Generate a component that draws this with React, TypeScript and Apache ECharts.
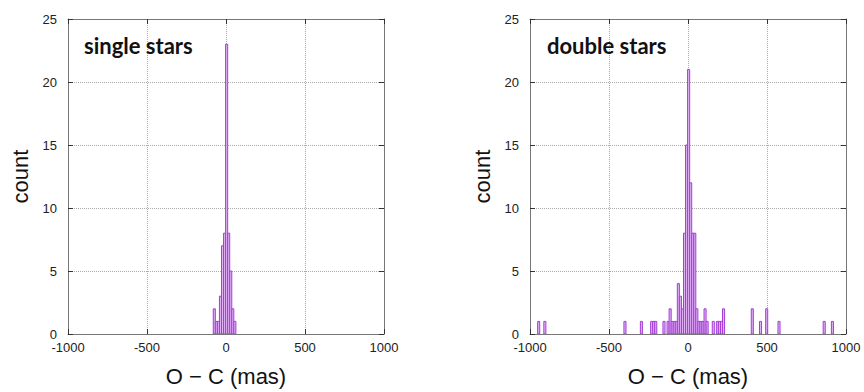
import React, { useEffect, useRef } from "react";
import * as echarts from "echarts";

const BIN_WIDTH = 13;
const xTicks = [-1000, -500, 0, 500, 1000];
const yTicks = [0, 5, 10, 15, 20, 25];

const singleCenters = [-74, -61, -48, -35, -22, -9, 4, 17, 30, 43, 56];
const singleCounts = [2, 1, 1, 3, 7, 8, 23, 8, 5, 2, 1];

const doubleCenters = [
  -945, -906, -399, -295, -230, -217, -204, -152, -126, -113, -100, -87, -74, -61, -48, -35, -22, -9,
  4, 17, 30, 43, 56, 69, 82, 95, 108, 121, 160, 186, 199, 212, 225, 407, 459, 498, 576, 862, 914,
];
const doubleCounts = [
  1, 1, 1, 1, 1, 1, 1, 1, 1, 2, 1, 1, 1, 4, 3, 2, 8, 15,
  21, 12, 8, 8, 2, 1, 1, 1, 2, 1, 1, 1, 1, 1, 2, 2, 1, 2, 1, 1, 1,
];

const panelTitles = ["single stars", "double stars"];
const xName = "O \u2212 C (mas)";
const yName = "count";

const FONT = "'Liberation Sans', Arial, sans-serif";

function binData(centers: number[], counts: number[]) {
  return centers.map((c, i) => [c - BIN_WIDTH / 2, c + BIN_WIDTH / 2, counts[i]]);
}

export default function App() {
  const ref = useRef<HTMLDivElement>(null);
  useEffect(() => {
    if (!ref.current) return;
    const chart = echarts.init(ref.current, null, { renderer: "svg" });
    const grids = [
      { left: 68, top: 19, width: 316, height: 319 },
      { left: 530, top: 19, width: 316, height: 319 },
    ];
    const gridLine = { show: true, lineStyle: { type: "dotted" as const, color: "#aaa", width: 1 } };
    const axisLine = { show: true, onZero: false, lineStyle: { color: "#777", width: 1 } };
    const tick = { show: true, inside: true, length: 5, lineStyle: { color: "#333" } };
    const xAxes: any[] = [];
    const yAxes: any[] = [];
    grids.forEach((_, gi) => {
      xAxes.push({
        type: "value",
        gridIndex: gi,
        min: xTicks[0],
        max: xTicks[xTicks.length - 1],
        interval: 500,
        position: "bottom",
        name: xName,
        nameLocation: "middle",
        nameGap: 31,
        nameTextStyle: { fontFamily: FONT, fontSize: 22, color: "#111" },
        axisLine,
        axisTick: tick,
        axisLabel: { fontFamily: FONT, fontSize: 13, color: "#222", margin: 7, formatter: (v: number) => String(v) },
        splitLine: gridLine,
      });
      xAxes.push({
        type: "value",
        gridIndex: gi,
        min: xTicks[0],
        max: xTicks[xTicks.length - 1],
        interval: 500,
        position: "top",
        axisLine,
        axisTick: tick,
        axisLabel: { show: false },
        splitLine: { show: false },
      });
      yAxes.push({
        type: "value",
        gridIndex: gi,
        min: yTicks[0],
        max: yTicks[yTicks.length - 1],
        interval: 5,
        position: "left",
        name: yName,
        nameLocation: "middle",
        nameGap: 37,
        nameRotate: 90,
        nameTextStyle: { fontFamily: FONT, fontSize: 22, color: "#111" },
        axisLine,
        axisTick: tick,
        axisLabel: { fontFamily: FONT, fontSize: 13, color: "#222", margin: 11 },
        splitLine: gridLine,
      });
      yAxes.push({
        type: "value",
        gridIndex: gi,
        min: yTicks[0],
        max: yTicks[yTicks.length - 1],
        interval: 5,
        position: "right",
        axisLine,
        axisTick: tick,
        axisLabel: { show: false },
        splitLine: { show: false },
      });
    });

    const renderItem = (params: any, api: any) => {
      const x0 = api.value(0);
      const x1 = api.value(1);
      const v = api.value(2);
      const p0 = api.coord([x0, v]);
      const p1 = api.coord([x1, 0]);
      return {
        type: "rect",
        shape: { x: p0[0], y: p0[1], width: p1[0] - p0[0], height: p1[1] - p0[1] },
        style: { fill: "#e3b3f5", stroke: "#a23ed6", lineWidth: 1 },
      };
    };

    const datasets = [binData(singleCenters, singleCounts), binData(doubleCenters, doubleCounts)];
    const titleStyle = { fontFamily: "Lato, sans-serif", fontWeight: "bold" as const, fontSize: 22, color: "#111" };

    chart.setOption({
      animation: false,
      backgroundColor: "#fff",
      grid: grids,
      xAxis: xAxes,
      yAxis: yAxes,
      title: [
        { text: panelTitles[0], left: 79, top: 29, textStyle: titleStyle },
        { text: panelTitles[1], left: 542, top: 29, textStyle: titleStyle },
      ],
      series: datasets.map((d, i) => ({
        type: "custom",
        xAxisIndex: i * 2,
        yAxisIndex: i * 2,
        renderItem,
        encode: { x: [0, 1], y: 2 },
        data: d,
        clip: true,
      })),
    });
    return () => chart.dispose();
  }, []);
  return <div ref={ref} style={{ width: 864, height: 392, position: "absolute", left: 0, top: 0 }} />;
}
